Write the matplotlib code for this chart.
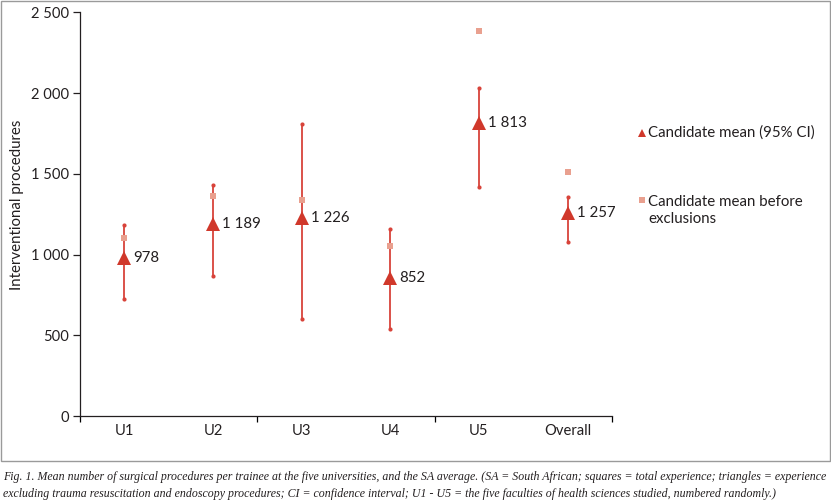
import matplotlib
matplotlib.use('Agg')
import matplotlib.pyplot as plt
from matplotlib.lines import Line2D
import matplotlib.patches as mpatches
from matplotlib.ticker import FixedLocator, FuncFormatter, NullFormatter

categories = ['U1', 'U2', 'U3', 'U4', 'U5', 'Overall']
mean_excl = [978, 1189, 1226, 852, 1813, 1257]
ci_lower = [726, 867, 599, 541, 1420, 1076]
ci_upper = [1183, 1429, 1808, 1156, 2029, 1358]
mean_before = [1104, 1362, 1338, 1055, 2384, 1513]
y_ticks = [0, 500, 1000, 1500, 2000, 2500]

legend_labels = ['Candidate mean (95% CI)', 'Candidate mean before\nexclusions']
caption_lines = [
    'Fig. 1. Mean number of surgical procedures per trainee at the five universities, and the SA average. '
    '(SA = South African; squares = total experience; triangles = experience',
    'excluding trauma resuscitation and endoscopy procedures; CI = confidence interval; '
    'U1 - U5 = the five faculties of health sciences studied, numbered randomly.)',
]

FONT = 'Lato'
plt.rcParams['font.family'] = [FONT, 'DejaVu Sans']

W, H = 831, 504
fig = plt.figure(figsize=(W / 100, H / 100), dpi=100)
ax = fig.add_axes([80 / W, 1 - 416 / H, (612 - 80) / W, (416 - 12.3) / H])

TRI = '#d0382b'
LINE = '#d8433a'
SQ = '#e9a08f'
TXT = '#231f20'

x = list(range(len(categories)))
for i in x:
    ax.plot([i, i], [ci_lower[i], ci_upper[i]], color=LINE, lw=1.3, zorder=2,
            marker='o', markersize=3, markeredgewidth=0, markerfacecolor=LINE)
ax.plot(x, mean_before, linestyle='none', marker='s', markersize=4.5,
        color=SQ, markeredgewidth=0, zorder=3)
ax.plot(x, mean_excl, linestyle='none', marker='^', markersize=10,
        color=TRI, markeredgewidth=0, zorder=4)

for i, v in zip(x, mean_excl):
    ax.annotate(f'{v:,}'.replace(',', ' '), (i, v), xytext=(9, 0),
                textcoords='offset pixels', ha='left', va='center',
                fontsize=10.8, color=TXT)

ax.set_xlim(-0.5, len(categories) - 0.5)
ax.set_ylim(0, 2500)
ax.yaxis.set_major_locator(FixedLocator(y_ticks))
ax.yaxis.set_major_formatter(FuncFormatter(lambda v, p: f'{int(v):,}'.replace(',', ' ')))
ax.tick_params(axis='y', direction='out', length=5, width=0.9, labelsize=10.6,
               pad=3, colors=TXT)

ax.xaxis.set_major_locator(FixedLocator([-0.5, 1.5, 3.5, 5.5]))
ax.xaxis.set_major_formatter(NullFormatter())
ax.xaxis.set_minor_locator(FixedLocator(x))
ax.set_xticks(x, categories, minor=True)
ax.tick_params(axis='x', which='major', direction='out', length=4, width=0.9)
ax.tick_params(axis='x', which='minor', length=0, labelsize=10.6, pad=6,
               colors=TXT)

for s in ['top', 'right']:
    ax.spines[s].set_visible(False)
for s in ['left', 'bottom']:
    ax.spines[s].set_linewidth(0.9)
    ax.spines[s].set_color(TXT)

ax.set_ylabel('Interventional procedures', fontsize=10.8, color=TXT)
ax.yaxis.label.set_va('center')
ax.yaxis.set_label_coords((17 - 80) / 532, (416 - 205) / 403.7)

# legend
fig.add_artist(Line2D([642 / W], [1 - 132.5 / H], marker='^', markersize=6,
                      color=TRI, markeredgewidth=0, linestyle='none'))
fig.text(648 / W, 1 - 132.5 / H, legend_labels[0], ha='left', va='center',
         fontsize=10.8, color=TXT)
fig.add_artist(Line2D([641.5 / W], [1 - 200.5 / H], marker='s', markersize=3.8,
                      color=SQ, markeredgewidth=0, linestyle='none'))
fig.text(648 / W, 1 - 210.5 / H, legend_labels[1], ha='left', va='center',
         fontsize=10.8, color=TXT, linespacing=1.3)

# frame
fig.add_artist(mpatches.Rectangle((0.5 / W, 1 - 461 / H), 829 / W, 460.5 / H,
                                  transform=fig.transFigure, fill=False,
                                  ec='#9a9a9a', lw=1))

# caption
for k, (line, yy) in enumerate(zip(caption_lines, [477, 494])):
    fig.text(3 / W, 1 - yy / H, line, ha='left', va='center', fontsize=8.6,
             family=['Liberation Serif', 'DejaVu Serif'], style='italic',
             color=TXT)

fig.savefig('out.png', dpi=100)
